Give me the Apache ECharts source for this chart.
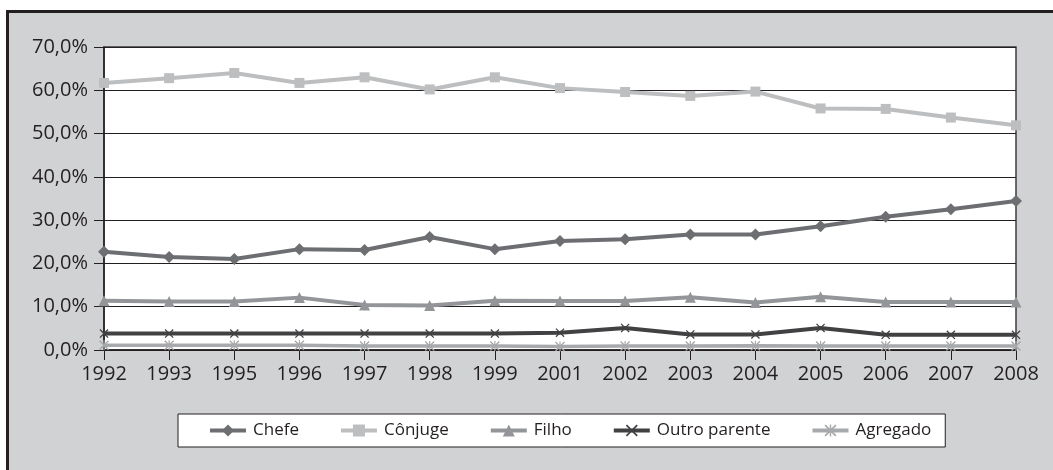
<!DOCTYPE html>
<html>
<head>
<meta charset="utf-8">
<script src="https://cdn.jsdelivr.net/npm/echarts@6/dist/echarts.min.js"></script>
<style>
html,body{margin:0;padding:0;background:#fff;overflow:hidden;}
#frame{position:absolute;left:6px;top:10px;width:1100px;height:520px;background:#d1d2d4;border:3px solid #231f20;box-sizing:border-box;}
#chart{position:absolute;left:0;top:0;width:1053px;height:470px;}
</style>
</head>
<body>
<div id="frame"></div>
<div id="chart"></div>
<script>
const years = ['1992','1993','1995','1996','1997','1998','1999','2001','2002','2003','2004','2005','2006','2007','2008'];
const chefe = [22.7,21.5,21.0,23.3,23.1,26.1,23.3,25.2,25.6,26.7,26.7,28.6,30.8,32.5,34.4];
const conjuge = [61.7,62.8,64.0,61.7,63.0,60.2,63.0,60.5,59.6,58.7,59.7,55.8,55.7,53.7,51.9];
const filho = [11.4,11.2,11.2,12.1,10.4,10.3,11.4,11.3,11.3,12.2,11.0,12.3,11.1,11.1,11.1];
const outroParente = [3.8,3.8,3.8,3.8,3.8,3.8,3.8,4.0,5.1,3.6,3.6,5.1,3.5,3.5,3.5];
const agregado = [1.1,1.1,1.1,1.1,0.9,0.9,0.9,0.8,0.9,0.9,1.0,0.9,0.9,0.9,0.9];
const seriesNames = ['Chefe','Cônjuge','Filho','Outro parente','Agregado'];

const xSym = 'path://M0,1 L1,0 L10,9 L9,10 Z M9,0 L10,1 L1,10 L0,9 Z';
const starSym = 'path://M0,1 L1,0 L10,9 L9,10 Z M9,0 L10,1 L1,10 L0,9 Z M4.4,0 L5.6,0 L5.6,10 L4.4,10 Z';
const txt = '#231f20';
const font = "'Open Sans', sans-serif";

function mk(name, data, color, symbol, size, width, z) {
  return {
    name: name, type: 'line', data: data, symbol: symbol, symbolSize: size,
    showSymbol: true, z: z,
    lineStyle: {color: color, width: width},
    itemStyle: {color: color, borderWidth: 0},
    emphasis: {disabled: true}
  };
}

const chart = echarts.init(document.getElementById('chart'), null, {renderer: 'canvas'});
chart.setOption({
  animation: false,
  backgroundColor: 'transparent',
  textStyle: {fontFamily: font},
  grid: {left: 104, right: 37, top: 47, bottom: 120, show: true, backgroundColor: '#ffffff', borderColor: '#3c3c3e', borderWidth: 1.5, containLabel: false},
  xAxis: {
    type: 'category', data: years, boundaryGap: false,
    axisLine: {lineStyle: {color: txt, width: 1.5}},
    axisTick: {show: true, alignWithLabel: true, length: 10, lineStyle: {color: txt, width: 1}},
    axisLabel: {color: txt, fontSize: 20, fontFamily: font, margin: 14, interval: 0},
    splitLine: {show: false}
  },
  yAxis: {
    type: 'value', min: 0, max: 70, interval: 10,
    axisLine: {show: true, lineStyle: {color: txt, width: 1.5}},
    axisTick: {show: true, length: 10, lineStyle: {color: txt, width: 1}},
    axisLabel: {color: txt, fontSize: 20, fontFamily: font, margin: 16,
      formatter: v => v.toFixed(1).replace('.', ',') + '%'},
    splitLine: {show: true, lineStyle: {color: txt, width: 1}}
  },
  legend: {
    data: seriesNames,
    left: 178, top: 414,
    padding: [8, 14, 8, 30],
    itemGap: 40, itemWidth: 36, itemHeight: 15,
    backgroundColor: '#ffffff', borderColor: txt, borderWidth: 1, borderRadius: 0,
    lineStyle: {width: 4},
    textStyle: {color: txt, fontSize: 17, fontFamily: font, padding: [0, 0, 0, 2]}
  },
  series: [
    mk(seriesNames[0], chefe, '#6d6e71', 'diamond', 12, 4, 5),
    mk(seriesNames[1], conjuge, '#bcbec0', 'rect', 10, 4, 4),
    mk(seriesNames[2], filho, '#939598', 'triangle', 11, 4, 3),
    mk(seriesNames[3], outroParente, '#414042', xSym, 9, 4, 6),
    mk(seriesNames[4], agregado, '#a7a9ac', starSym, 10, 3.5, 2)
  ]
});
</script>
</body>
</html>
